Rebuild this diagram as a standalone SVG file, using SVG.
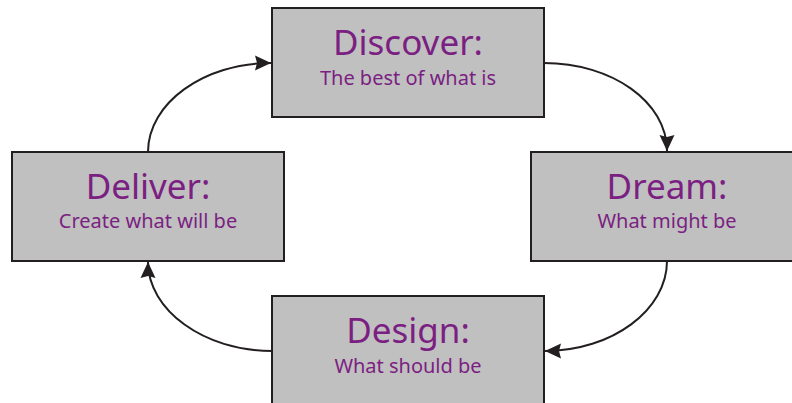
<svg xmlns="http://www.w3.org/2000/svg" width="792" height="403" viewBox="0 0 792 403">
  <style>
    .box { fill: #c0c0c0; stroke: #231f20; stroke-width: 2; }
    .head { font-family: "Noto Sans", "DejaVu Sans", sans-serif; font-size: 35px; fill: #7b1f82; text-anchor: middle; }
    .sub { font-family: "Noto Sans", "DejaVu Sans", sans-serif; font-size: 20px; fill: #7b1f82; text-anchor: middle; }
    .link { fill: none; stroke: #231f20; stroke-width: 2; marker-end: url(#arrow); }
  </style>
  <defs>
    <!-- filled arrowhead, tip at the path end -->
    <marker id="arrow" markerUnits="userSpaceOnUse" markerWidth="17" markerHeight="16" refX="16" refY="8" orient="auto">
      <path d="M0,0.5 L16,8 L0,15.5 L2,8 Z" fill="#231f20"/>
    </marker>
  </defs>
  <rect width="792" height="403" fill="#ffffff"/>

  <g id="connectors">
    <path class="link" d="M544,63 C612,63 667,102 667,151"/>
    <path class="link" d="M667,261 C667,310 612,351 545,351"/>
    <path class="link" d="M272,351 C204,351 148,310 148,262"/>
    <path class="link" d="M148,152 C148,103 204,63 271,63"/>
  </g>

  <g id="discover">
    <rect class="box" x="272" y="8" width="272" height="109"/>
    <text class="head" x="408" y="55">Discover:</text>
    <text class="sub" x="408" y="85">The best of what is</text>
  </g>

  <g id="dream">
    <rect class="box" x="531" y="152" width="272" height="109"/>
    <text class="head" x="667" y="199">Dream:</text>
    <text class="sub" x="667" y="228">What might be</text>
  </g>

  <g id="design">
    <rect class="box" x="272" y="296" width="272" height="120"/>
    <text class="head" x="408" y="343">Design:</text>
    <text class="sub" x="408" y="373">What should be</text>
  </g>

  <g id="deliver">
    <rect class="box" x="12" y="152" width="272" height="109"/>
    <text class="head" x="148" y="199">Deliver:</text>
    <text class="sub" x="148" y="228">Create what will be</text>
  </g>
</svg>
